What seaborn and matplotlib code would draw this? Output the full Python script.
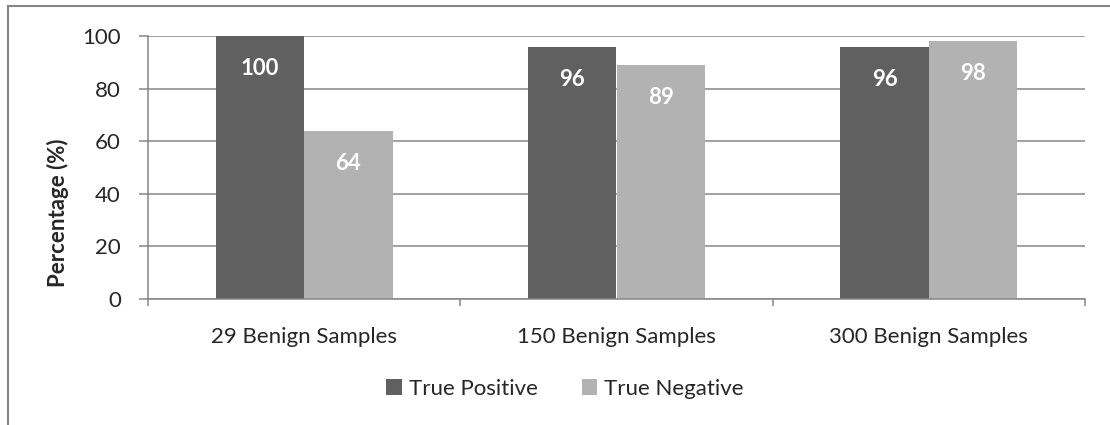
import numpy as np
import pandas as pd
import matplotlib
matplotlib.use('Agg')
import matplotlib.pyplot as plt
import seaborn as sns
from matplotlib.patches import Rectangle

# chart values
categories = ['29 Benign Samples', '150 Benign Samples', '300 Benign Samples']
true_positive = [100, 96, 96]
true_negative = [64, 89, 98]
series_names = ['True Positive', 'True Negative']

df = pd.DataFrame({
    'Samples': categories * 2,
    'Value': true_positive + true_negative,
    'Series': [series_names[0]] * 3 + [series_names[1]] * 3,
})

sns.set_theme(style='white')
plt.rcParams['font.family'] = ['Lato', 'DejaVu Sans']

grid_col = '#868686'
palette = {'True Positive': '#606060', 'True Negative': '#b2b2b2'}
fs = 16

fig = plt.figure(figsize=(11.1, 4.25), dpi=100)
ax = fig.add_axes([148 / 1110, 1 - 299 / 425, (1085 - 148) / 1110, (299 - 36) / 425])

sns.barplot(data=df, x='Samples', y='Value', hue='Series', palette=palette,
            width=0.566, saturation=1, linewidth=0, ax=ax, legend=True)

ax.set_ylim(0, 100)
ax.set_xlim(-0.5, 2.5)
ax.set_yticks(np.arange(0, 101, 20))
ax.yaxis.grid(True, color=grid_col, linewidth=1.1)
ax.set_axisbelow(True)
for s in ['top', 'right']:
    ax.spines[s].set_visible(False)
for s in ['left', 'bottom']:
    ax.spines[s].set_color(grid_col)
    ax.spines[s].set_linewidth(1.1)

ax.tick_params(axis='y', which='major', length=6.5, width=1.1, color=grid_col,
               labelsize=fs, pad=13, left=True)
ax.tick_params(axis='x', which='major', length=0, labelsize=fs, pad=20)
ax.set_xticks([-0.5, 0.5, 1.5, 2.5], minor=True)
ax.tick_params(axis='x', which='minor', length=5, width=1.1, color=grid_col, bottom=True)

ax.set_xlabel('')
ax.set_ylabel('Percentage (%)', fontsize=fs, fontweight='bold')
ax.yaxis.set_label_coords(69 / 1110, 0.5, transform=fig.transFigure)

for c in ax.containers:
    ax.bar_label(c, padding=-31, color='white', fontweight='bold', fontsize=fs)

leg = ax.legend(loc='center', bbox_to_anchor=(565 / 1110, 1 - 389 / 425),
                bbox_transform=fig.transFigure, ncol=2, frameon=False,
                fontsize=fs, handlelength=0.7, handleheight=0.7,
                handletextpad=0.3, columnspacing=2.0)

# outer chart border
fig.patches.append(Rectangle((8 / 1110, -0.05), 1.2, 1 - 6 / 425 + 0.05,
                             transform=fig.transFigure, fill=False,
                             edgecolor=grid_col, linewidth=1.5))

fig.savefig('out.png', dpi=100)
